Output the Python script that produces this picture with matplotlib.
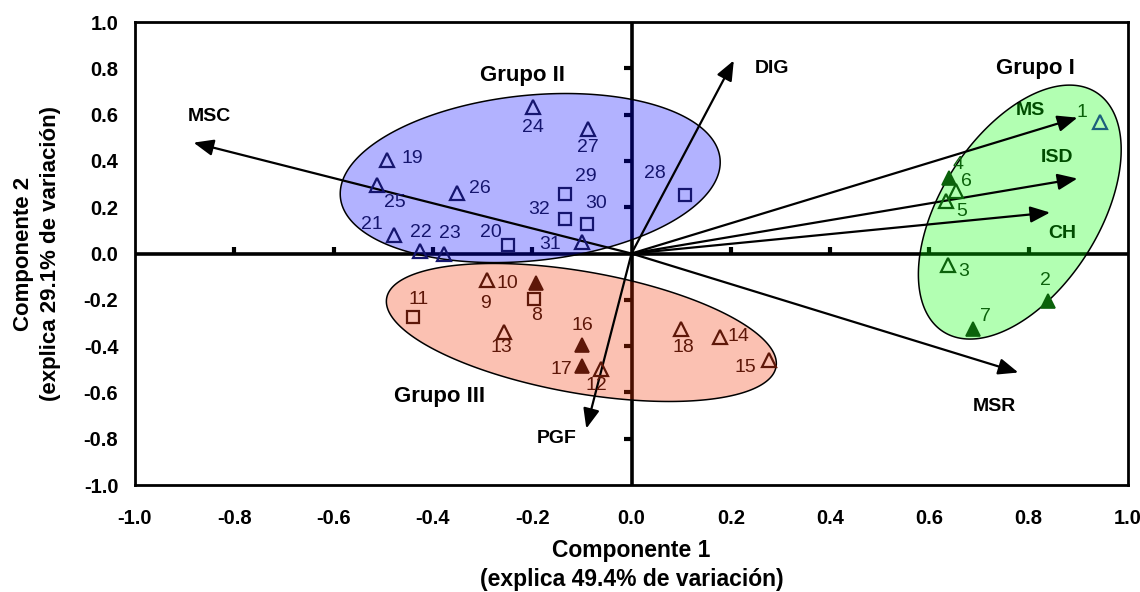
import numpy as np
import matplotlib

matplotlib.use("Agg")
import matplotlib.pyplot as plt  # noqa: E402
from matplotlib.patches import Polygon  # noqa: E402

plt.rcParams["font.family"] = ["Liberation Sans", "DejaVu Sans"]

# scores of the genotypes on components 1 and 2, by group
# kind: "o" open triangle, "f" filled triangle, "s" open square
g1_ids = ["1", "2", "3", "4", "5", "6", "7"]
g1_x = [0.944, 0.839, 0.637, 0.639, 0.633, 0.653, 0.688]
g1_y = [0.566, -0.207, -0.048, 0.328, 0.229, 0.268, -0.324]
g1_kind = ["o", "f", "o", "f", "o", "o", "f"]

g2_ids = ["19", "20", "21", "22", "23", "24", "25", "26", "27", "28", "29", "30", "31", "32"]
g2_x = [-0.493, -0.249, -0.479, -0.426, -0.377, -0.199, -0.512, -0.351, -0.087, 0.107,
        -0.133, -0.089, -0.100, -0.133]
g2_y = [0.406, 0.035, 0.078, 0.013, -0.004, 0.635, 0.294, 0.261, 0.539, 0.251,
        0.258, 0.128, 0.049, 0.150]
g2_kind = ["o", "s", "o", "o", "o", "o", "o", "o", "o", "s", "s", "s", "o", "s"]

g3_ids = ["8", "9", "10", "11", "12", "13", "14", "15", "16", "17", "18"]
g3_x = [-0.196, -0.291, -0.193, -0.440, -0.062, -0.257, 0.179, 0.276, -0.099, -0.099, 0.100]
g3_y = [-0.196, -0.114, -0.127, -0.275, -0.498, -0.337, -0.361, -0.459, -0.397, -0.487, -0.328]
g3_kind = ["s", "o", "f", "s", "o", "o", "o", "o", "f", "f", "o"]

# variable loadings (arrows from the origin)
var_names = ["MSC", "DIG", "MS", "ISD", "CH", "MSR", "PGF"]
var_x = [-0.882, 0.206, 0.898, 0.898, 0.843, 0.779, -0.091]
var_y = [0.479, 0.834, 0.587, 0.324, 0.177, -0.514, -0.756]

# where the arrow names sit (data units)
var_label_pos = {"MSC": (-0.85, 0.59), "DIG": (0.283, 0.80), "MS": (0.803, 0.618),
                 "ISD": (0.857, 0.416), "CH": (0.867, 0.085), "MSR": (0.73, -0.66),
                 "PGF": (-0.15, -0.80)}

# point label offsets from the marker, pixels (right, up)
label_off = {
    "1": (-18, 10), "2": (-3, 21), "3": (16, -7), "4": (9, 13), "5": (16, -11),
    "6": (11, 10), "7": (12, 12),
    "19": (26, 1), "20": (-17, 13), "21": (-22, 11), "22": (1, 18), "23": (6, 21),
    "24": (0, -21), "25": (18, -17), "26": (23, 5), "27": (0, -19), "28": (-30, 22),
    "29": (20, 17), "30": (9, 20), "31": (-32, -2), "32": (-26, 9),
    "8": (2, -17), "9": (-2, -24), "10": (-28, -1), "11": (6, 18), "12": (-4, -17),
    "13": (-3, -16), "14": (18, 1), "15": (-23, -8), "16": (0, 20), "17": (-21, -3),
    "18": (2, -18),
}

# group ellipses: centre (data), semi-axes (pixels), angle (deg, on screen)
ellipses = [
    dict(c=(0.782, 0.179), a=142.0, b=79.0, ang=57.4, color=(0.0, 1.0, 0.0)),
    dict(c=(-0.204, 0.326), a=190.8, b=82.7, ang=5.85, color=(0.0, 0.0, 1.0)),
    dict(c=(-0.101, -0.341), a=197.7, b=60.8, ang=-10.0, color=(0.95, 0.2, 0.0)),
]

group_titles = [("Grupo I", 0.813, 0.80), ("Grupo II", -0.22, 0.77), ("Grupo III", -0.386, -0.618)]

GREEN = "#0b620b"
BLUE = "#15156e"
RED = "#5e1708"
TEAL = "#1c5f7c"


def ellipse_xy(c, a, b, ang, sx, sy, n=300):
    t = np.linspace(0, 2 * np.pi, n)
    th = np.deg2rad(ang)
    u, v = a * np.cos(t), b * np.sin(t)
    px = u * np.cos(th) - v * np.sin(th)
    py = u * np.sin(th) + v * np.cos(th)
    return np.column_stack([c[0] + px / sx, c[1] + py / sy])


def fmt(t):
    return "0.0" if abs(t) < 1e-9 else f"{t:.1f}"


fig = plt.figure(figsize=(11.4, 5.92), dpi=100)
ax = fig.add_axes([0.1184, 0.1807, 0.8711, 0.7821])
ax.set_xlim(-1, 1)
ax.set_ylim(-1, 1)
for sp in ax.spines.values():
    sp.set_linewidth(2.0)

ticks = np.round(np.arange(-1.0, 1.01, 0.2), 1)
ax.set_xticks(ticks)
ax.set_yticks(ticks)
ax.set_xticklabels([fmt(t) for t in ticks], fontweight="bold")
ax.set_yticklabels([fmt(t) for t in ticks], fontweight="bold")
ax.tick_params(axis="both", length=0, labelsize=14.5)
ax.tick_params(axis="x", pad=17)
ax.tick_params(axis="y", pad=12)

ax.set_xlabel("Componente 1\n(explica 49.4% de variación)", fontsize=16.5, fontweight="bold",
              linespacing=1.35, labelpad=8)
ax.set_ylabel("Componente 2\n(explica 29.1% de variación)", fontsize=16, fontweight="bold",
              linespacing=1.4, labelpad=16)

# zero lines with small inner ticks
ax.axhline(0, color="black", lw=2.6, zorder=1)
ax.axvline(0, color="black", lw=2.6, zorder=1)
inner = [t for t in ticks if abs(t) > 0.01 and abs(t) < 0.99]
ax.vlines(inner, 0, 0.03, color="black", lw=3, zorder=1)
ax.hlines(inner, -0.016, 0, color="black", lw=3, zorder=1)

# arrow names sit under the ellipses (they get tinted like the axis lines)
for name in var_names:
    lx, ly = var_label_pos[name]
    ax.text(lx, ly, name, fontsize=14, fontweight="bold", ha="center", va="center", zorder=1.5)

for gt, gx, gy in group_titles:
    ax.text(gx, gy, gt, fontsize=16, fontweight="bold", ha="center", va="center", zorder=1.5)

sx = ax.bbox.width / 2
sy = ax.bbox.height / 2
for e in ellipses:
    xy = ellipse_xy(e["c"], e["a"], e["b"], e["ang"], sx, sy)
    ax.add_patch(Polygon(xy, closed=True, facecolor=e["color"], alpha=0.3, edgecolor="none", zorder=2))
    ax.add_patch(Polygon(xy, closed=True, facecolor="none", edgecolor="black", lw=1.1, zorder=2.2))

for name, vx, vy in zip(var_names, var_x, var_y):
    ax.annotate("", xy=(vx, vy), xytext=(0, 0), zorder=3,
                arrowprops=dict(arrowstyle="-|>,head_length=0.8,head_width=0.33", lw=1.6,
                                color="black", shrinkA=0, shrinkB=0, mutation_scale=15))


def draw_group(ids, xs, ys, kinds, color):
    for pid, x, y, k in zip(ids, xs, ys, kinds):
        c = TEAL if pid == "1" else color
        if k == "s":
            ax.plot(x, y, marker="s", ms=9, mfc="none", mec=c, mew=1.6, zorder=4)
        elif k == "f":
            ax.plot(x, y, marker="^", ms=10, mfc=c, mec=c, mew=1.2, zorder=4)
        else:
            ax.plot(x, y, marker="^", ms=10, mfc="none", mec=c, mew=1.6, zorder=4)
        dx, dy = label_off[pid]
        ax.annotate(pid, (x, y), xytext=(dx, dy), textcoords="offset pixels", fontsize=14,
                    color=color, ha="center", va="center", zorder=4)


draw_group(g1_ids, g1_x, g1_y, g1_kind, GREEN)
draw_group(g2_ids, g2_x, g2_y, g2_kind, BLUE)
draw_group(g3_ids, g3_x, g3_y, g3_kind, RED)

fig.savefig("out.png", dpi=100)
